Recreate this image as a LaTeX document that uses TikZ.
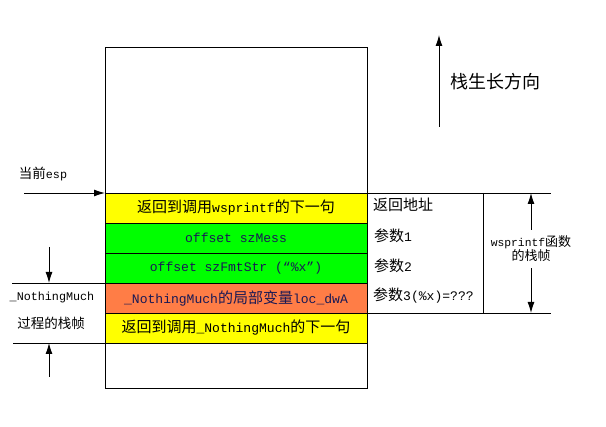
\documentclass[tikz,border=0pt]{standalone}
\usepackage{fontspec}
\setmainfont{Noto Sans CJK SC}
\newfontfamily\monof{Liberation Mono}[Scale=0.87]
\usetikzlibrary{positioning,arrows.meta}

\newcommand\m[1]{{\monof #1}}

\definecolor{rowyellow}{RGB}{255,255,0}
\definecolor{rowgreen}{RGB}{0,255,0}
\definecolor{roworange}{RGB}{255,125,70}
\definecolor{darktxt}{RGB}{25,25,85}

\tikzset{
	row/.style={draw, line width=0.9pt, minimum width=262pt, minimum height=30pt,
		inner sep=0pt, outer sep=0pt, font=\fontsize{15}{17}\selectfont},
	lbl/.style={anchor=west, inner sep=0pt, font=\fontsize{15}{17}\selectfont},
	small/.style={inner sep=0pt, font=\fontsize{13.5}{15}\selectfont},
	tip/.style={-{Latex[length=11pt,width=7pt]}, line width=0.9pt}
}

\begin{document}
\begin{tikzpicture}[x=1pt, y=-1pt]

	\useasboundingbox (0,0) rectangle (606,427);

	% the stack
	\draw[line width=0.9pt] (105,47) rectangle (367,388);

	\node[row, fill=rowyellow, anchor=north west] (ret1) at (105,193)
		{返回到调用\m{wsprintf}的下一句};
	\node[row, fill=rowgreen, text=darktxt, below=0pt of ret1] (arg1)
		{\m{offset szMess}};
	\node[row, fill=rowgreen, text=darktxt, below=0pt of arg1] (arg2)
		{\m{offset szFmtStr (“\%x”)}};
	\node[row, fill=roworange, text=darktxt, below=0pt of arg2] (loc)
		{\m{\_NothingMuch}的局部变量\m{loc\_dwA}};
	\node[row, fill=rowyellow, below=0pt of loc] (ret2)
		{返回到调用\m{\_NothingMuch}的下一句};

	% current esp
	\node[small] (esp) at (43,174) {当前\m{esp}};
	\coordinate (espstart) at (24,193);
	\draw[tip] (espstart) -- (ret1.north west);

	% frame of _NothingMuch
	\coordinate (nmtop) at (12,283);
	\coordinate (nmbot) at (13,343);
	\coordinate (nmdown) at (49,247);
	\coordinate (nmup) at (49,377);
	\draw[line width=0.9pt] (nmtop) -- (loc.north west);
	\draw[line width=0.9pt] (nmbot) -- (ret2.south west);
	\draw[tip] (nmdown) -- (nmdown |- nmtop);
	\draw[tip] (nmup) -- (nmup |- nmbot);
	\node[small] (nmname) at (52,297) {\m{\_NothingMuch}};
	\node[small] (nmframe) at (51,323) {过程的栈帧};

	% labels on the right
	\node[lbl] (raddr) at (373,205) {返回地址};
	\node[lbl] (p1) at (374,236) {参数\m{1}};
	\node[lbl] (p2) at (374,266) {参数\m{2}};
	\node[lbl] (p3) at (373,296) {参数\m{3(\%x)=???}};

	% frame of wsprintf
	\coordinate (wtop) at (551,193);
	\coordinate (wbot) at (551,313);
	\draw[line width=0.9pt] (ret1.north east) -- (wtop);
	\draw[line width=0.9pt] (loc.south east) -- (wbot);
	\draw[line width=0.9pt] (483,193) -- (483,313);
	\node[align=center, inner xsep=0pt, inner ysep=6pt,
		font=\fontsize{13}{14}\selectfont] (wsf) at (531,249)
		{\m{wsprintf}函数\\的栈帧};
	\draw[tip] (wsf.north) -- (wsf.north |- wtop);
	\draw[tip] (wsf.south) -- (wsf.south |- wbot);

	% growth direction
	\coordinate (grow) at (439,127);
	\draw[tip] (grow) -- (439,35);
	\node[inner sep=0pt, font=\fontsize{18}{20}\selectfont] (growtxt) at (495,82)
		{栈生长方向};

\end{tikzpicture}
\end{document}
